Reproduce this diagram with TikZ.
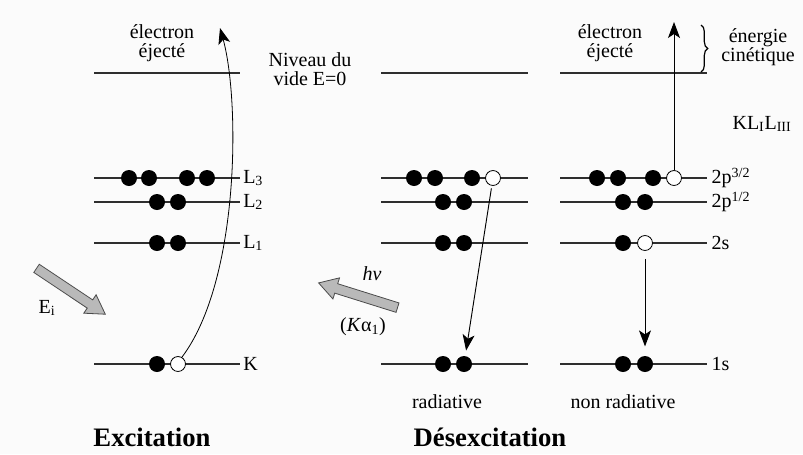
\documentclass[tikz,border=0pt]{standalone}
\usepackage{fontspec}
\setmainfont{Liberation Serif}
\usepackage{xcolor}
\usepackage{tikz}
\usetikzlibrary{arrows.meta,shapes.arrows,decorations.pathreplacing}
\definecolor{XBack}{HTML}{FBFBFB}
\definecolor{XLine}{HTML}{2E2E2E}
\definecolor{XGray}{HTML}{B9B9B9}
\definecolor{XDark}{HTML}{4A4A4A}

\begin{document}
\begin{tikzpicture}[x=.75pt,y=-.75pt,
  lvl/.style={draw=XLine,line width=.9pt},
  full/.style={circle,fill=black,inner sep=0pt,minimum size=12pt},
  hole/.style={circle,draw=black,fill=white,line width=.6pt,inner sep=0pt,minimum size=11.2pt},
  lab/.style={font=\fontsize{15}{17}\selectfont,text=black},
  ttl/.style={font=\fontsize{20}{22}\selectfont\bfseries},
  tran/.style={draw=black,line width=.7pt,-{Stealth[length=12pt,width=9pt,inset=3pt]}},
  photon/.style={single arrow,draw=XDark,fill=XGray,line width=.6pt,
    inner xsep=0pt,inner ysep=3.4pt,text height=0pt,text depth=0pt,
    single arrow head extend=4.6pt,single arrow tip angle=62,
    minimum height=62pt}]
\path[use as bounding box] (0,0) rectangle (803,454);
\fill[XBack] (0,0) rectangle (803,454);

\draw[lvl] (94,73) -- (240,73);
\draw[lvl] (94,178) -- (240,178) node[lab,anchor=west,inner sep=2pt] (lL3) {L\textsubscript{3}};
\draw[lvl] (94,202) -- (240,202) node[lab,anchor=west,inner sep=2pt] (lL2) {L\textsubscript{2}};
\draw[lvl] (94,243) -- (240,243) node[lab,anchor=west,inner sep=2pt] (lL1) {L\textsubscript{1}};
\draw[lvl] (94,364) -- (240,364) node[lab,anchor=west,inner sep=2pt] (lK) {K};
\node[full] (aL3a) at (129,178) {};
\node[full] (aL3b) at (149,178) {};
\node[full] (aL3c) at (187,178) {};
\node[full] (aL3d) at (207,178) {};
\node[full] (aL2a) at (157,202) {};
\node[full] (aL2b) at (178,202) {};
\node[full] (aL1a) at (157,243) {};
\node[full] (aL1b) at (178,243) {};
\node[full] (aKa) at (157,364) {};
\node[hole] (aKb) at (178,364) {};
\coordinate (ejL) at (220,28);
\draw[tran,line width=.6pt] (aKb.60) .. controls (240,280) and (240,100) .. (ejL);
\node[lab,align=center] (txEjL) at (162,43) {électron\\[-3pt]éjecté};
\node[lab,align=center] (txVide) at (310,69) {Niveau du\\[-3pt]vide E=0};
\node[photon,rotate=-33.7] (inArr) at (67.5,289) {};
\node[lab] (txEi) at (47,308) {E\textsubscript{i}};
\node[ttl] (txExc) at (152,437) {Excitation};

\draw[lvl] (381,73) -- (528,73);
\draw[lvl] (381,178) -- (528,178);
\draw[lvl] (381,202) -- (528,202);
\draw[lvl] (381,243) -- (528,243);
\draw[lvl] (381,364) -- (528,364);
\node[full] (b2p3a) at (414,178) {};
\node[full] (b2p3b) at (435,178) {};
\node[full] (b2p3c) at (472,178) {};
\node[hole] (b2p3d) at (493,178) {};
\node[full] (b2p1a) at (443,202) {};
\node[full] (b2p1b) at (464,202) {};
\node[full] (b2sa) at (443,243) {};
\node[full] (b2sb) at (464,243) {};
\node[full] (b1sa) at (443,364) {};
\node[full] (b1sb) at (464,364) {};
\draw[tran,shorten <=2pt,shorten >=4pt] (b2p3d) -- (b1sb);
\node[photon,rotate=162.6] (outArr) at (362,296.5) {};
\node[lab] (txHnu) at (372,274) {\textit{hν}};
\node[lab] (txKa) at (363,327) {(\textit{K}α\textsubscript{1})};
\node[lab] (txRad) at (447,402) {radiative};

\draw[lvl] (560,73) -- (707,73);
\draw[lvl] (560,178) -- (707,178) node[lab,anchor=west,inner sep=3pt] (l2p3) {2p\textsuperscript{3/2}};
\draw[lvl] (560,202) -- (707,202) node[lab,anchor=west,inner sep=3pt] (l2p1) {2p\textsuperscript{1/2}};
\draw[lvl] (560,243) -- (707,243) node[lab,anchor=west,inner sep=3pt] (l2s) {2s};
\draw[lvl] (560,364) -- (707,364) node[lab,anchor=west,inner sep=3pt] (l1s) {1s};
\node[full] (c2p3a) at (597,178) {};
\node[full] (c2p3b) at (618,178) {};
\node[full] (c2p3c) at (653,178) {};
\node[hole] (c2p3d) at (674,178) {};
\node[full] (c2p1a) at (623,202) {};
\node[full] (c2p1b) at (645,202) {};
\node[full] (c2sa) at (623,243) {};
\node[hole] (c2sb) at (645,243) {};
\node[full] (c1sa) at (623,364) {};
\node[full] (c1sb) at (645,364) {};
\coordinate (ejR) at (674,22);
\draw[tran] (c2p3d) -- (ejR);
\draw[tran,shorten <=6pt,shorten >=7pt] (c2sb) -- (c1sb);
\node[lab,align=center] (txEjR) at (610,43) {électron\\[-3pt]éjecté};
\coordinate (brTop) at (701,25);
\coordinate (brBot) at (701,72);
\draw[line width=.9pt,decorate,decoration={brace,amplitude=5pt}] (brTop) -- (brBot);
\node[lab,align=center] (txEcin) at (758,47) {énergie\\[-3pt]cinétique};
\node[lab] (txAuger) at (762,124) {KL\textsubscript{I}L\textsubscript{III}};
\node[lab] (txNonRad) at (623,402) {non radiative};
\node[ttl] (txDes) at (490,437) {Désexcitation};
\end{tikzpicture}
\end{document}
